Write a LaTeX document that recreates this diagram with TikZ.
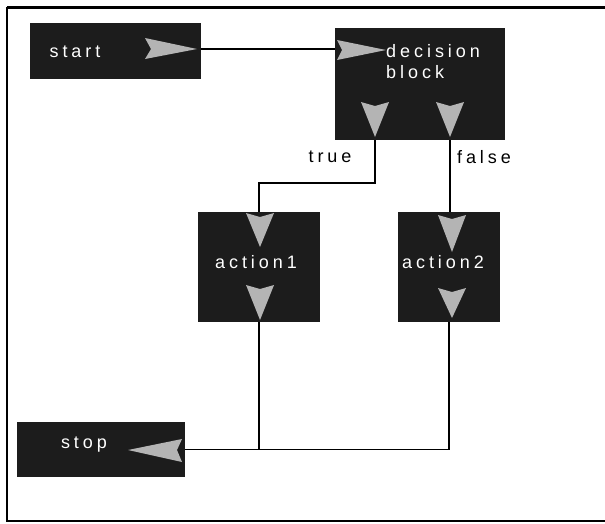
\documentclass[tikz,border=0pt]{standalone}
\usepackage{fontspec}
\setmainfont{Liberation Sans}
\newfontfamily\spaced[LetterSpace=22]{Liberation Sans}
\definecolor{boxfill}{RGB}{28,28,28}
\definecolor{tipfill}{RGB}{180,180,180}
\tikzset{
  blockbox/.style={fill=boxfill, draw=none, inner sep=0pt, rectangle},
  blocktext/.style={text=white, font=\spaced\fontsize{18}{20}\selectfont, inner sep=0pt},
  labeltext/.style={text=black, font=\spaced\fontsize{18}{20}\selectfont, inner sep=0pt},
  wire/.style={line width=1.5pt, draw=black},
  frameline/.style={line width=2pt, draw=black},
  tip/.style={fill=tipfill, draw=none},
}
\begin{document}
\begin{tikzpicture}[x=1pt, y=-1pt]
  \useasboundingbox (0,0) rectangle (605,523);

  % outer frame (right side runs off the page)
  \draw[frameline, line width=3pt] (7,7) -- (605,7);
  \draw[frameline] (7,7) -- (7,521) -- (605,521);

  % blocks
  \node[blockbox, minimum width=171pt, minimum height=56pt] (start) at (115.5,51) {};
  \node[blockbox, minimum width=170pt, minimum height=112pt] (decision) at (420,84) {};
  \node[blockbox, minimum width=122pt, minimum height=110pt] (action1) at (259,267) {};
  \node[blockbox, minimum width=102pt, minimum height=110pt] (action2) at (449,267) {};
  \node[blockbox, minimum width=168pt, minimum height=55pt] (stop) at (101,449.5) {};

  % block captions
  \node[blocktext] (starttxt) at (75,52) {start};
  \node[blocktext, anchor=west, align=left, font=\spaced\fontsize{18}{21}\selectfont] (dectxt) at (386,62) {decision\\block};
  \node[blocktext] (a1txt) at (256,262) {action1};
  \node[blocktext] (a2txt) at (443,262) {action2};
  \node[blocktext] (stoptxt) at (84,445) {stop};

  % port arrows drawn inside the blocks
  \fill[tip] (145,38) -- (197,49) -- (145,59) -- (151,49) -- cycle;
  \fill[tip] (337,40) -- (386,50) -- (337,60) -- (342,50) -- cycle;
  \fill[tip] (361,102) -- (375,106) -- (389,102) -- (375,137) -- cycle;
  \fill[tip] (436,102) -- (450,106) -- (464,102) -- (450,137) -- cycle;
  \fill[tip] (246,213) -- (260,217) -- (274,213) -- (260,247) -- cycle;
  \fill[tip] (246,285) -- (260,289) -- (274,285) -- (260,320) -- cycle;
  \fill[tip] (438,215) -- (452,219) -- (466,215) -- (452,252) -- cycle;
  \fill[tip] (438,288) -- (452,292) -- (466,288) -- (452,318) -- cycle;
  \fill[tip] (128,450) -- (182,439) -- (177,450) -- (182,462) -- cycle;

  % connectors
  \draw[wire] ([yshift=2pt]start.east) -- ([yshift=2pt]start.east -| decision.west);
  \draw[wire] ([xshift=-45pt]decision.south) -- ++(0,43) -| (action1.north);
  \draw[wire] ([xshift=30pt]decision.south) -- ([xshift=30pt]decision.south |- action2.north);
  \draw[wire] (action1.south) -- (action1.south |- stop.east);
  \draw[wire] (action2.south) |- (stop.east);

  % branch labels
  \node[labeltext] (truelbl) at (330,157) {true};
  \node[labeltext] (falselbl) at (484,157) {false};
\end{tikzpicture}
\end{document}
